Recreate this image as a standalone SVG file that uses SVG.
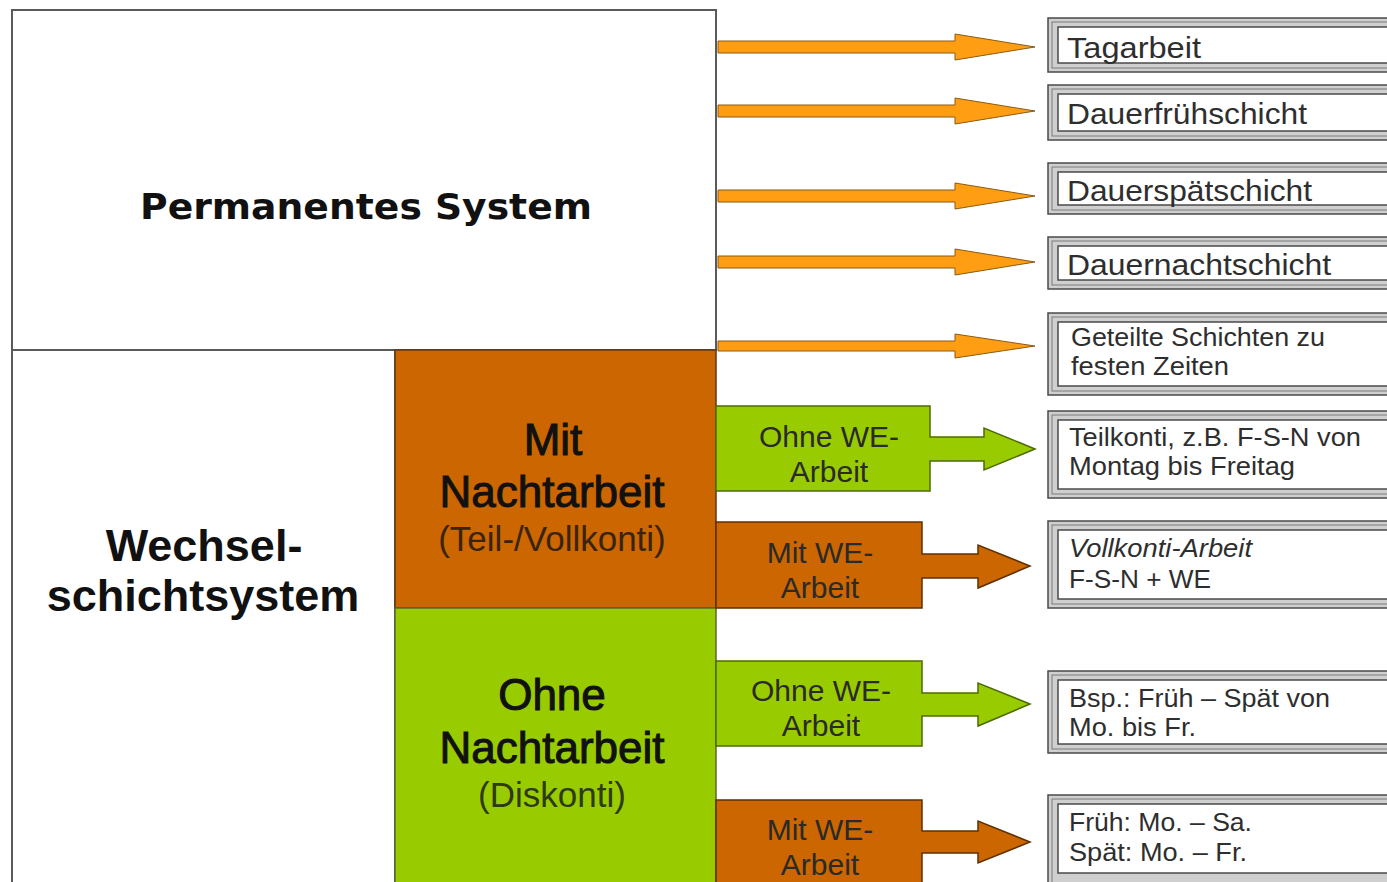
<svg xmlns="http://www.w3.org/2000/svg" width="1387" height="882" viewBox="0 0 1387 882">
<defs>
<style>
.frame{stroke:#5a5a5a;stroke-width:2}
.big{font-family:"Liberation Sans",Arial,sans-serif;fill:#111;text-anchor:middle}
.heavy{stroke:#111;stroke-width:1}
.lbl{font-family:"Liberation Sans",Arial,sans-serif;fill:#2a2a2a;font-size:30px;text-anchor:middle}
.rt{font-family:"Liberation Sans",Arial,sans-serif;fill:#2e2e2e}
.outer{fill:#cfcfcf;stroke:#4a4a4a;stroke-width:1.5}
.mid{fill:none;stroke:#7a7a7a;stroke-width:1}
.inner{fill:#fff;stroke:#4a4a4a;stroke-width:1.5}
.oarr{fill:#FF9E12;stroke:#8a5b12;stroke-width:1}
.green{fill:#99CC00;stroke:#4d6b00;stroke-width:1.5}
.orange{fill:#CC6600;stroke:#5e3000;stroke-width:1.5}
</style>
</defs>
<rect width="1387" height="882" fill="#fff"/>

<g id="permanent">
<rect x="12" y="10" width="704" height="340" fill="#fff" class="frame"/>
<text x="366" y="219" font-weight="bold" font-size="36" text-anchor="middle" fill="#111" textLength="452" lengthAdjust="spacingAndGlyphs" style="font-family:'DejaVu Sans',Verdana,sans-serif">Permanentes System</text>
</g>

<g id="wechsel">
<rect x="12" y="350" width="383" height="540" fill="#fff" class="frame"/>
<text class="big" font-weight="bold" font-size="45" x="204" y="561">Wechsel-</text>
<text class="big" font-weight="bold" font-size="45" x="203" y="611">schichtsystem</text>
</g>

<g id="mitNacht">
<rect x="395" y="350" width="321" height="258" fill="#CC6600" stroke="#5a3a1a" stroke-width="1.5"/>
<text class="big heavy" font-size="44" x="553" y="455">Mit</text>
<text class="big heavy" font-size="44" x="552" y="507">Nachtarbeit</text>
<text class="big" font-size="35" x="552" y="551" style="fill:#3a2410">(Teil-/Vollkonti)</text>
</g>

<g id="ohneNacht">
<rect x="395" y="608" width="321" height="282" fill="#99CC00" stroke="#5a6a2a" stroke-width="1.5"/>
<text class="big heavy" font-size="44" x="552" y="710">Ohne</text>
<text class="big heavy" font-size="44" x="552" y="763">Nachtarbeit</text>
<text class="big" font-size="35" x="552" y="807" style="fill:#2e3a10">(Diskonti)</text>
</g>

<g id="connectors">
<path class="oarr" d="M718,41 H955 V34 L1035,47 L955,60 V53 H718 Z"/>
<path class="oarr" d="M718,105 H955 V98 L1035,111 L955,124 V117 H718 Z"/>
<path class="oarr" d="M718,190 H955 V183 L1035,196 L955,209 V202 H718 Z"/>
<path class="oarr" d="M718,256 H955 V249 L1035,262 L955,275 V268 H718 Z"/>
<path class="oarr" d="M718,341 H955 V334 L1035,346 L955,358 V351 H718 Z"/>
</g>

<g id="ohneWE1">
<path class="green" d="M716,406 H930 V437 H984 V428 L1035,449 L984,470 V461 H930 V491 H716 Z"/>
<text class="lbl" x="829" y="447">Ohne WE-</text>
<text class="lbl" x="829" y="482">Arbeit</text>
</g>
<g id="mitWE1">
<path class="orange" d="M716,522 H922 V554 H978 V545 L1030,566 L978,588 V578 H922 V608 H716 Z"/>
<text class="lbl" x="820" y="563">Mit WE-</text>
<text class="lbl" x="820" y="598">Arbeit</text>
</g>
<g id="ohneWE2">
<path class="green" d="M716,661 H922 V693 H978 V683 L1030,704 L978,726 V716 H922 V746 H716 Z"/>
<text class="lbl" x="821" y="701">Ohne WE-</text>
<text class="lbl" x="821" y="736">Arbeit</text>
</g>
<g id="mitWE2">
<path class="orange" d="M716,800 H922 V831 H978 V821 L1030,842 L978,863 V853 H922 V890 H716 Z"/>
<text class="lbl" x="820" y="840">Mit WE-</text>
<text class="lbl" x="820" y="875">Arbeit</text>
</g>

<g id="tagarbeit">
<rect class="outer" x="1048" y="18" width="360" height="54"/>
<rect class="mid" x="1052" y="22" width="352" height="46"/>
<rect class="inner" x="1058" y="27" width="340" height="36"/>
<text class="rt" x="1067" y="58" font-size="29" textLength="134" lengthAdjust="spacingAndGlyphs">Tagarbeit</text>
</g>
<g id="dauerfrueh">
<rect class="outer" x="1048" y="85" width="360" height="55"/>
<rect class="mid" x="1052" y="89" width="352" height="47"/>
<rect class="inner" x="1058" y="94" width="340" height="37"/>
<text class="rt" x="1067" y="124" font-size="29" textLength="240" lengthAdjust="spacingAndGlyphs">Dauerfrühschicht</text>
</g>
<g id="dauerspaet">
<rect class="outer" x="1048" y="163" width="360" height="51"/>
<rect class="mid" x="1052" y="167" width="352" height="43"/>
<rect class="inner" x="1058" y="172" width="340" height="33"/>
<text class="rt" x="1067" y="201" font-size="29" textLength="245" lengthAdjust="spacingAndGlyphs">Dauerspätschicht</text>
</g>
<g id="dauernacht">
<rect class="outer" x="1048" y="237" width="360" height="52"/>
<rect class="mid" x="1052" y="241" width="352" height="44"/>
<rect class="inner" x="1058" y="246" width="340" height="34"/>
<text class="rt" x="1067" y="275" font-size="29" textLength="264" lengthAdjust="spacingAndGlyphs">Dauernachtschicht</text>
</g>
<g id="geteilt">
<rect class="outer" x="1048" y="313" width="360" height="82"/>
<rect class="mid" x="1052" y="317" width="352" height="74"/>
<rect class="inner" x="1058" y="322" width="340" height="64"/>
<text class="rt" x="1071" y="346" font-size="25" textLength="254" lengthAdjust="spacingAndGlyphs">Geteilte Schichten zu</text>
<text class="rt" x="1071" y="375" font-size="25" textLength="158" lengthAdjust="spacingAndGlyphs">festen Zeiten</text>
</g>
<g id="teilkonti">
<rect class="outer" x="1048" y="411" width="360" height="87"/>
<rect class="mid" x="1052" y="415" width="352" height="79"/>
<rect class="inner" x="1058" y="420" width="340" height="69"/>
<text class="rt" x="1069" y="446" font-size="25" textLength="292" lengthAdjust="spacingAndGlyphs">Teilkonti, z.B. F-S-N von</text>
<text class="rt" x="1069" y="475" font-size="25" textLength="226" lengthAdjust="spacingAndGlyphs">Montag bis Freitag</text>
</g>
<g id="vollkonti">
<rect class="outer" x="1048" y="521" width="360" height="87"/>
<rect class="mid" x="1052" y="525" width="352" height="79"/>
<rect class="inner" x="1058" y="530" width="340" height="69"/>
<text class="rt" x="1069" y="557" font-size="25" font-style="italic" textLength="183" lengthAdjust="spacingAndGlyphs">Vollkonti-Arbeit</text>
<text class="rt" x="1069" y="588" font-size="25" textLength="142" lengthAdjust="spacingAndGlyphs">F-S-N + WE</text>
</g>
<g id="bsp">
<rect class="outer" x="1048" y="671" width="360" height="82"/>
<rect class="mid" x="1052" y="675" width="352" height="74"/>
<rect class="inner" x="1058" y="680" width="340" height="64"/>
<text class="rt" x="1069" y="707" font-size="25" textLength="261" lengthAdjust="spacingAndGlyphs">Bsp.: Früh – Spät von</text>
<text class="rt" x="1069" y="736" font-size="25" textLength="127" lengthAdjust="spacingAndGlyphs">Mo. bis Fr.</text>
</g>
<g id="frueh">
<rect class="outer" x="1048" y="795" width="360" height="95"/>
<rect class="mid" x="1052" y="799" width="352" height="87"/>
<rect class="inner" x="1058" y="804" width="340" height="69"/>
<text class="rt" x="1069" y="831" font-size="25" textLength="183" lengthAdjust="spacingAndGlyphs">Früh: Mo. – Sa.</text>
<text class="rt" x="1069" y="861" font-size="25" textLength="178" lengthAdjust="spacingAndGlyphs">Spät: Mo. – Fr.</text>
</g>
</svg>
